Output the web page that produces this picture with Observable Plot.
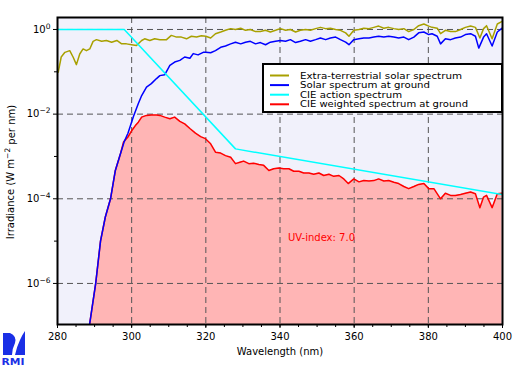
<!DOCTYPE html>
<html>
<head>
<meta charset="utf-8">
<script src="https://cdn.jsdelivr.net/npm/d3@7"></script>
<script src="https://cdn.jsdelivr.net/npm/@observablehq/plot@0.6"></script>
<style>
  html, body { margin: 0; padding: 0; background: #ffffff; }
  #chart { position: relative; width: 516px; height: 365px; }
</style>
</head>
<body>
<div id="chart"></div>
<script>
// ---- Data (log10 of irradiance, W m^-2 per nm) ----
const extraWl = [280.2,281,282,283.3,284.2,285.1,286,286.9,287.8,288.7,289.6,290.5,291.9,293.2,294.6,296,297.3,298.6,300,301.3,302.7,303.5,304.9,306.2,307.6,309.4,310.7,312.1,313.4,314.8,316.1,317.5,318.8,320,321.3,322.6,324,325.3,326.7,328,329.4,330.7,332,333.4,334.7,336.1,337.4,338.8,340.1,341.5,342.8,344.2,345.5,346.9,348.2,349.6,350.9,352.3,353.6,355,356.3,357.7,358.6,359.9,361.3,362.6,364,365.3,366.6,368,369.3,370.7,372,373.4,374.7,376.1,377.4,378.8,380.1,381,382.4,383.3,384.6,386,387.3,388.7,390,391.4,392.7,393.9,394.9,395.7,397.2,398.6,399.9];
const extraLog = [-1.01,-0.65,-0.54,-0.50,-0.65,-0.83,-0.58,-0.46,-0.50,-0.46,-0.28,-0.24,-0.28,-0.26,-0.30,-0.26,-0.34,-0.34,-0.36,-0.38,-0.26,-0.22,-0.26,-0.22,-0.24,-0.24,-0.14,-0.18,-0.18,-0.22,-0.16,-0.18,-0.15,-0.16,-0.20,-0.10,-0.06,-0.02,0.02,0,0.03,-0.02,0,-0.05,-0.05,-0.02,-0.06,-0.02,0.02,-0.02,0,-0.06,-0.02,0,-0.02,0.02,0.05,0.02,0.03,0,-0.02,-0.08,-0.16,-0.02,0,0.03,0.02,0.05,0.08,0.03,0.05,0.02,0,0.02,-0.05,0,0.09,0.13,0.08,0.05,0.03,-0.10,-0.02,-0.05,-0.05,0,0.05,0.08,0.05,-0.20,0.02,0.09,-0.22,0.13,0.19];

const groundWl = [288.6,290.3,291.6,292.9,294.3,295.6,297,298,299,300.5,301.8,302.7,304,305.3,306.7,307.6,308.9,310.3,311.6,313,314.3,315.7,316.6,317.9,319.3,320,321.3,322.6,324,325.3,326.7,328,329.4,330.7,332,333.4,334.7,336.1,337.4,338.8,340.1,341.5,342.8,344.2,345.5,346.9,348.2,349.6,350.9,352.3,353.6,355,356.3,357.7,358.6,359.9,361.3,362.6,364,365.3,366.6,368,369.3,370.7,372,373.4,374.7,376.1,377.4,378.8,380.1,381,382.4,383.3,384.6,386,387.3,388.7,390,391.4,392.7,393.6,394.9,395.7,397.2,398.6,399.9];
const groundLog = [-7.0,-6.0,-5.0,-4.43,-4.0,-3.33,-2.93,-2.65,-2.45,-2.05,-1.75,-1.56,-1.36,-1.28,-1.16,-1.09,-1.07,-0.85,-0.77,-0.73,-0.65,-0.68,-0.57,-0.60,-0.54,-0.54,-0.55,-0.50,-0.42,-0.39,-0.34,-0.30,-0.34,-0.30,-0.28,-0.34,-0.31,-0.36,-0.30,-0.28,-0.26,-0.28,-0.24,-0.31,-0.28,-0.24,-0.28,-0.24,-0.20,-0.24,-0.20,-0.18,-0.24,-0.30,-0.36,-0.24,-0.22,-0.20,-0.20,-0.18,-0.16,-0.18,-0.16,-0.18,-0.20,-0.18,-0.24,-0.18,-0.08,-0.06,-0.12,-0.10,-0.16,-0.34,-0.22,-0.24,-0.20,-0.18,-0.12,-0.10,-0.16,-0.44,-0.18,-0.10,-0.39,-0.06,0.03];

const cieWl = [280, 298, 328, 400];
const cieVal = [1, 1, 0.00151, 0.000126];

const weightedWl = [288.6,290.3,291.6,292.9,294.3,295.6,297,297.8,299,300.1,301,301.8,302.7,304,305.3,306.7,307.6,308.9,310.3,311.6,313,314.3,315.7,317.2,318.6,319.9,321.3,322.6,324,325.3,326.7,328,329.4,330.2,331.6,332.9,334.3,335.6,337,338.3,339.7,341,342.4,343.7,345.1,346.4,347.8,349.1,350.5,351.8,353.2,354.5,355.9,357.2,358.4,359.9,361.3,362.6,364,365.3,366.6,368,369.3,370.7,372,373.4,374.7,376.1,377.4,378.8,380.1,381.5,383.3,384.6,386,387.3,388.7,390,391.4,392.7,393.9,394.9,395.7,397.2,398.6,399.9];
const weightedLog = [-7.0,-6.0,-5.0,-4.43,-4.0,-3.33,-2.93,-2.66,-2.54,-2.38,-2.27,-2.19,-2.07,-2.03,-2.02,-2.02,-2.03,-2.07,-2.11,-2.07,-2.17,-2.23,-2.34,-2.45,-2.53,-2.58,-2.70,-2.90,-2.92,-2.98,-3.02,-3.17,-3.13,-3.11,-3.17,-3.16,-3.19,-3.21,-3.33,-3.29,-3.27,-3.29,-3.29,-3.35,-3.35,-3.39,-3.39,-3.42,-3.39,-3.45,-3.42,-3.47,-3.45,-3.53,-3.64,-3.53,-3.60,-3.57,-3.58,-3.57,-3.53,-3.58,-3.57,-3.61,-3.64,-3.71,-3.76,-3.71,-3.66,-3.64,-3.76,-3.76,-4.00,-3.87,-3.92,-3.92,-3.90,-3.87,-3.84,-3.88,-4.21,-3.96,-3.92,-4.21,-3.88,-3.87];

const xMajor = [280, 300, 320, 340, 360, 380, 400];
const xMinor = d3.range(280, 401, 5);
const yMajor = [1, 1e-2, 1e-4, 1e-6];
const yMinor = [1e-1, 1e-3, 1e-5];
const yExp = new Map([[1, "0"], [1e-2, "\u22122"], [1e-4, "\u22124"], [1e-6, "\u22126"]]);

const legendItems = [
  {label: "Extra-terrestrial solar spectrum", color: "#a8a000"},
  {label: "Solar spectrum at ground", color: "#0000ff"},
  {label: "CIE action spectrum", color: "#00ffff"},
  {label: "CIE weighted spectrum at ground", color: "#ff0000"}
];
const uvIndexText = "UV-index: 7.0";

// ---- Build tables ----
const toRows = (wl, lg) => wl.map((w, i) => ({wl: w, v: Math.pow(10, lg[i])}));
const extra = toRows(extraWl, extraLog);
const ground = toRows(groundWl, groundLog);
const weighted = toRows(weightedWl, weightedLog);
const cie = cieWl.map((w, i) => ({wl: w, v: cieVal[i]}));

const yDomain = [Math.pow(10, -6.97), Math.pow(10, 0.283)];
const FONT = "DejaVu Sans, sans-serif";

const plot = Plot.plot({
  width: 516,
  height: 365,
  marginLeft: 57,
  marginRight: 14,
  marginTop: 17,
  marginBottom: 41,
  style: {fontFamily: FONT, fontSize: "10px", background: "transparent", color: "black"},
  x: {domain: [280, 400], label: null},
  y: {type: "log", domain: yDomain, label: null},
  marks: [
    Plot.frame({fill: "#f1f1fb", stroke: null}),
    Plot.areaY(weighted, {x: "wl", y1: yDomain[0], y2: "v", fill: "#ffb5b5", clip: true}),
    Plot.gridX(xMajor.slice(1, -1), {stroke: "#555", strokeOpacity: 1, strokeDasharray: "6,4", strokeWidth: 1}),
    Plot.gridY(yMajor, {stroke: "#555", strokeOpacity: 1, strokeDasharray: "6,4", strokeWidth: 1}),
    Plot.line(weighted, {x: "wl", y: "v", stroke: "#ff0000", strokeWidth: 1.5, clip: true}),
    Plot.line(extra, {x: "wl", y: "v", stroke: "#a8a000", strokeWidth: 1.5, clip: true}),
    Plot.line(ground, {x: "wl", y: "v", stroke: "#0000ff", strokeWidth: 1.5, clip: true}),
    Plot.line(cie, {x: "wl", y: "v", stroke: "#00ffff", strokeWidth: 1.5, clip: true}),
    Plot.axisX({ticks: xMinor, tickSize: 3, tickFormat: () => "", label: null, strokeWidth: 1}),
    Plot.axisX({ticks: xMajor, tickSize: 4, tickPadding: 4, tickFormat: d => String(d), label: null, fontSize: 10}),
    Plot.axisY({ticks: yMinor, tickSize: 3, tickFormat: () => "", label: null}),
    Plot.axisY({ticks: yMajor, tickSize: 4, tickPadding: 3, tickFormat: d => "10^" + yExp.get(d), label: null, fontSize: 10}),
    Plot.frame({stroke: "black", strokeWidth: 2})
  ]
});

document.getElementById("chart").appendChild(plot);
const svg = d3.select(plot);

// Superscripts on y tick labels
svg.selectAll("g[aria-label='y-axis tick label'] text").each(function() {
  const t = d3.select(this);
  const s = t.text();
  if (s.startsWith("10^")) {
    const e = s.slice(3);
    t.text("10");
    t.append("tspan").attr("dy", "-0.55em").attr("font-size", "7.5px").text(e);
  }
});

// Axis titles
svg.append("text")
  .attr("x", 280).attr("y", 355)
  .attr("text-anchor", "middle")
  .attr("font-family", FONT).attr("font-size", "10px")
  .text("Wavelength (nm)");

const yl = svg.append("text")
  .attr("transform", "translate(14,172) rotate(-90)")
  .attr("text-anchor", "middle")
  .attr("font-family", FONT).attr("font-size", "10px");
yl.append("tspan").text("Irradiance (W m");
yl.append("tspan").attr("dy", "-0.5em").attr("font-size", "7.5px").text("\u22122");
yl.append("tspan").attr("dy", "0.5em").text(" per nm)");

// UV index annotation
svg.append("text")
  .attr("x", 288).attr("y", 241)
  .attr("text-anchor", "start")
  .attr("font-family", FONT).attr("font-size", "10px")
  .attr("fill", "#ff0000")
  .text(uvIndexText);

// Legend
const legendWidths = [162, 130, 102, 168];
const lg = svg.append("g");
lg.append("rect").attr("x", 263).attr("y", 64).attr("width", 239).attr("height", 48)
  .attr("fill", "white").attr("stroke", "black").attr("stroke-width", 2);
legendItems.forEach((it, i) => {
  const y = 75.5 + i * 9.6;
  lg.append("line").attr("x1", 270).attr("x2", 289).attr("y1", y).attr("y2", y)
    .attr("stroke", it.color).attr("stroke-width", 2);
  lg.append("text").attr("x", 300).attr("y", y + 3)
    .attr("text-anchor", "start")
    .attr("font-family", FONT).attr("font-size", "8.4px")
    .attr("textLength", legendWidths[i]).attr("lengthAdjust", "spacingAndGlyphs")
    .text(it.label);
});

// RMI logo
const logo = svg.append("g").attr("fill", "#1a2fe6");
logo.append("path").attr("d", "M3,333 L10,333 Q17,336 15,343 Q12,349 12,355 L3,355 Z");
logo.append("path").attr("d", "M25,331 L25,355 L15,355 Q17,346 20,340 Q22,335 25,331 Z");
logo.append("text").attr("x", 1.5).attr("y", 364.5)
  .attr("text-anchor", "start")
  .attr("font-family", FONT).attr("font-size", "9px").attr("font-weight", "bold")
  .attr("textLength", 23).attr("lengthAdjust", "spacingAndGlyphs")
  .text("RMI");
</script>
</body>
</html>
